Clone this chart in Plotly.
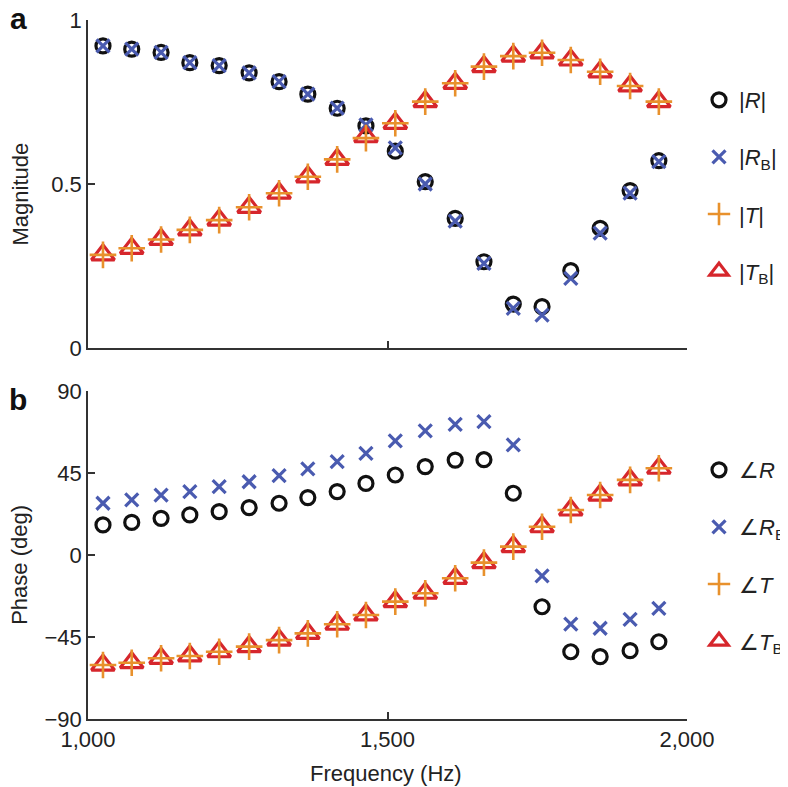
import plotly.graph_objects as go
from plotly.subplots import make_subplots

# frequencies (Hz)
freq = [1025, 1073, 1122, 1170, 1219, 1269, 1319, 1367, 1416, 1464,
        1513, 1563, 1613, 1661, 1710, 1758, 1806, 1855, 1905, 1953]

# panel a: magnitudes
mag_R = [0.921, 0.911, 0.901, 0.870, 0.861, 0.839, 0.812, 0.774, 0.731, 0.677,
         0.600, 0.507, 0.395, 0.263, 0.134, 0.126, 0.236, 0.365, 0.480, 0.571]
mag_RB = [0.921, 0.911, 0.901, 0.870, 0.861, 0.839, 0.812, 0.774, 0.731, 0.680,
          0.610, 0.500, 0.387, 0.258, 0.121, 0.100, 0.212, 0.350, 0.472, 0.568]
mag_T = [0.284, 0.304, 0.331, 0.360, 0.390, 0.429, 0.472, 0.522, 0.575, 0.640,
         0.685, 0.751, 0.807, 0.858, 0.890, 0.900, 0.878, 0.842, 0.799, 0.751]
mag_TB = [0.284, 0.304, 0.331, 0.360, 0.390, 0.429, 0.472, 0.522, 0.575, 0.644,
          0.685, 0.751, 0.807, 0.858, 0.890, 0.900, 0.878, 0.842, 0.799, 0.751]

# panel b: phases (deg)
ph_R = [16.5, 17.9, 20.1, 22.0, 23.8, 26.0, 28.4, 31.5, 34.8, 39.3,
        43.9, 48.5, 52.1, 52.3, 33.9, -28.4, -53.1, -55.8, -52.5, -47.6]
ph_RB = [28.4, 30.2, 32.9, 34.8, 37.5, 40.2, 43.5, 47.2, 51.2, 55.8,
         62.6, 68.1, 71.7, 73.2, 60.4, -11.5, -37.9, -40.2, -35.3, -29.3]
ph_T = [-60.4, -59.1, -56.7, -55.4, -53.1, -50.3, -46.7, -43.0, -38.0, -32.9,
        -25.6, -21.0, -12.8, -4.2, 4.6, 15.5, 24.7, 32.9, 41.2, 47.6]
ph_TB = [-60.4, -59.1, -56.7, -55.4, -53.1, -50.3, -46.7, -43.0, -38.0, -32.9,
         -25.6, -21.0, -12.8, -4.2, 4.6, 15.5, 24.7, 32.9, 41.2, 47.6]

FONT = "Liberation Sans, Arial, sans-serif"
TXT = "#222222"
BLACK = "#111111"
BLUE = "#4a5bb0"
ORANGE = "#e8912c"
RED = "#d6262c"

# the page has an 8 px body margin, so the figure is 8 px smaller each way
W, H = 780, 779

styles = {
    "R": dict(symbol="circle-open", size=14, line=dict(width=3.2, color=BLACK), color=BLACK),
    "RB": dict(symbol="x-thin-open", size=13, line=dict(width=3.2, color=BLUE), color=BLUE),
    "T": dict(symbol="cross-thin-open", size=19, line=dict(width=2.6, color=ORANGE), color=ORANGE),
    "TB": dict(symbol="triangle-up-open", size=20, line=dict(width=3.2, color=RED), color=RED),
}

fig = make_subplots(rows=2, cols=1, vertical_spacing=43 / 699)

# draw order: circle, cross, triangle, plus (plus on top of triangle)
top = [
    ("R", mag_R, "|<i>R</i>|", 1),
    ("RB", mag_RB, "|<i>R</i><sub>B</sub>|", 2),
    ("TB", mag_TB, "|<i>T</i><sub>B</sub>|", 4),
    ("T", mag_T, "|<i>T</i>|", 3),
]
bottom = [
    ("R", ph_R, "∠<i>R</i>", 1),
    ("RB", ph_RB, "∠<i>R</i><sub>B</sub>", 2),
    ("TB", ph_TB, "∠<i>T</i><sub>B</sub>", 4),
    ("T", ph_T, "∠<i>T</i>", 3),
]

for key, vals, name, rank in top:
    fig.add_trace(go.Scatter(x=freq, y=vals, mode="markers", name=name,
                             marker=styles[key], legend="legend",
                             legendgroup="a" + key, legendrank=rank,
                             cliponaxis=False), row=1, col=1)
for key, vals, name, rank in bottom:
    fig.add_trace(go.Scatter(x=freq, y=vals, mode="markers", name=name,
                             marker=styles[key], legend="legend2",
                             legendgroup="b" + key, legendrank=rank,
                             cliponaxis=False), row=2, col=1)

axis_common = dict(showline=True, linecolor="#333333", linewidth=1.5,
                   ticks="inside", ticklen=7, tickwidth=1.5, tickcolor="#333333",
                   showgrid=False, zeroline=False, automargin=False,
                   ticklabeloverflow="allow",
                   tickfont=dict(size=22, color=TXT, family=FONT))

fig.update_xaxes(range=[1000, 2000], tickvals=[1000, 1500, 2000], **axis_common)
fig.update_xaxes(showticklabels=False, row=1, col=1)
fig.update_xaxes(tickformat=",", row=2, col=1)
fig.update_yaxes(range=[0, 1], tickvals=[0, 0.5, 1], ticktext=["0", "0.5", "1"],
                 row=1, col=1, **axis_common)
fig.update_yaxes(range=[-90, 90], tickvals=[-90, -45, 0, 45, 90],
                 row=2, col=1, **axis_common)

legend_common = dict(font=dict(size=22, color=TXT, family=FONT),
                     bgcolor="rgba(0,0,0,0)", tracegroupgap=25.5,
                     xref="container", yref="container",
                     xanchor="left", yanchor="top", itemsizing="trace")

title_font = dict(size=22, color=TXT, family=FONT)
letter_font = dict(size=30, color="#111111", family=FONT)

fig.update_layout(
    width=W, height=H,
    margin=dict(l=80, r=101, t=12, b=68),
    paper_bgcolor="white", plot_bgcolor="white",
    font=dict(family=FONT, color=TXT),
    showlegend=True,
    legend=dict(x=691 / W, y=1 - 71 / H, **legend_common),
    legend2=dict(x=691 / W, y=1 - 441 / H, **legend_common),
    annotations=[
        dict(text="Magnitude", textangle=-90, x=(20 - 88) / 599, y=0.468,
             xref="paper", yref="y domain", showarrow=False, font=title_font,
             xanchor="center", yanchor="middle"),
        dict(text="Phase (deg)", textangle=-90, x=(20 - 88) / 599, y=0.47,
             xref="paper", yref="y2 domain", showarrow=False, font=title_font,
             xanchor="center", yanchor="middle"),
        dict(text="Frequency (Hz)", x=0.497, y=(719 - 773) / 699,
             xref="paper", yref="paper", showarrow=False, font=title_font,
             xanchor="center", yanchor="middle"),
        dict(text="<b>a</b>", x=(18 - 88) / 599, y=(719 - 18) / 699,
             xref="paper", yref="paper", showarrow=False, font=letter_font,
             xanchor="center", yanchor="middle"),
        dict(text="<b>b</b>", x=(18 - 88) / 599, y=(719 - 399) / 699,
             xref="paper", yref="paper", showarrow=False, font=letter_font,
             xanchor="center", yanchor="middle"),
    ],
)

fig.write_html("out.html")
